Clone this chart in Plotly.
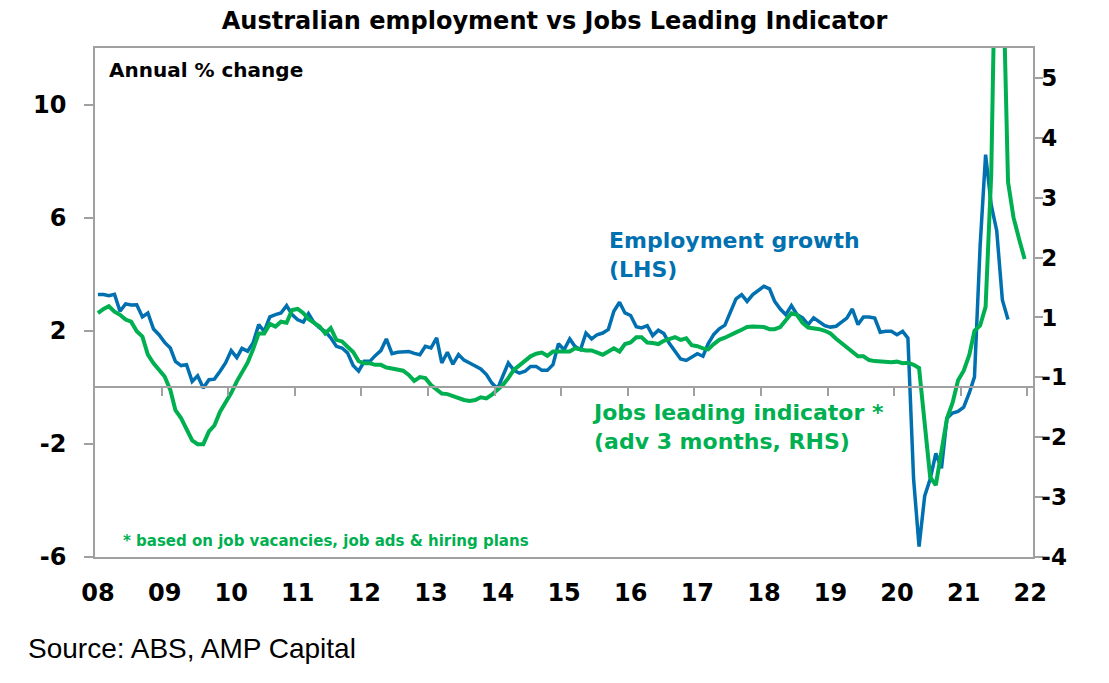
import pandas as pd
import plotly.graph_objects as go

# monthly values from Jan 2008
# employment growth, annual % change (left axis)
employment = [
    3.28, 3.28, 3.24, 3.29, 2.69, 2.95, 2.91, 2.92, 2.49, 2.63, 2.06, 1.86,
    1.59, 1.39, 0.92, 0.77, 0.80, 0.21, 0.41, -0.02, 0.27, 0.29, 0.57, 0.86,
    1.30, 1.05, 1.38, 1.28, 1.57, 2.22, 1.98, 2.49, 2.57, 2.63, 2.89, 2.57,
    2.39, 2.31, 2.61, 2.28, 2.10, 1.98, 1.75, 1.45, 1.39, 1.22, 0.77, 0.57,
    0.92, 0.92, 1.12, 1.30, 1.71, 1.19, 1.24, 1.26, 1.27, 1.20, 1.15, 1.45,
    1.39, 1.75, 0.86, 1.24, 0.82, 1.16, 0.96, 0.86, 0.74, 0.65, 0.45, 0.15,
    -0.05, 0.40, 0.86, 0.60, 0.50, 0.57, 0.74, 0.74, 0.60, 0.60, 0.80, 1.54,
    1.33, 1.71, 1.45, 1.33, 1.92, 1.71, 1.86, 1.92, 2.05, 2.69, 3.01, 2.63,
    2.54, 2.14, 2.10, 2.18, 1.83, 2.02, 1.90, 1.55, 1.25, 1.00, 0.95, 1.07,
    1.19, 1.10, 1.54, 1.87, 2.07, 2.20, 2.63, 3.13, 3.28, 3.04, 3.28, 3.43,
    3.57, 3.48, 3.04, 2.77, 2.57, 2.89, 2.58, 2.46, 2.22, 2.46, 2.30, 2.18,
    2.13, 2.16, 2.30, 2.45, 2.77, 2.22, 2.49, 2.49, 2.45, 1.95, 1.98, 1.98,
    1.86, 1.98, 1.74, -3.24, -5.63, -3.84, -3.24, -2.34, -2.86, -1.09, -0.91, -0.85,
    -0.70, -0.19, 0.37, 5.00, 8.23, 6.44, 5.54, 3.09, 2.40,
]

# jobs leading indicator, advanced 3 months (right axis)
jobs_indicator = [
    0.58, 0.66, 0.71, 0.61, 0.55, 0.46, 0.42, 0.24, 0.14, -0.20, -0.36, -0.47,
    -0.61, -0.86, -1.24, -1.39, -1.61, -1.81, -1.88, -1.88, -1.64, -1.53, -1.27, -1.11,
    -0.92, -0.70, -0.55, -0.35, -0.10, 0.20, 0.20, 0.38, 0.33, 0.42, 0.40, 0.64,
    0.66, 0.58, 0.47, 0.39, 0.33, 0.20, 0.30, 0.08, 0.05, -0.05, -0.15, -0.32,
    -0.36, -0.36, -0.39, -0.39, -0.44, -0.46, -0.48, -0.50, -0.58, -0.69, -0.62, -0.64,
    -0.77, -0.85, -0.93, -0.94, -0.98, -1.02, -1.05, -1.07, -1.05, -1.00, -1.02, -0.95,
    -0.86, -0.76, -0.64, -0.48, -0.40, -0.31, -0.23, -0.18, -0.16, -0.22, -0.14, -0.14,
    -0.14, -0.14, -0.08, -0.11, -0.12, -0.12, -0.16, -0.20, -0.14, -0.08, -0.14, 0.00,
    0.03, 0.13, 0.13, 0.03, 0.02, 0.00, 0.06, 0.10, 0.13, 0.08, 0.11, -0.02,
    -0.04, -0.08, -0.10, 0.00, 0.08, 0.12, 0.16, 0.22, 0.27, 0.32, 0.33, 0.33,
    0.32, 0.28, 0.28, 0.32, 0.46, 0.58, 0.55, 0.40, 0.31, 0.30, 0.28, 0.25,
    0.20, 0.10, 0.02, -0.05, -0.15, -0.23, -0.23, -0.30, -0.32, -0.33, -0.33, -0.34,
    -0.33, -0.36, -0.35, -0.39, -0.45, -1.50, -2.50, -2.65, -2.05, -1.40, -1.10, -0.68,
    -0.50, -0.20, 0.25, 0.35, 0.70, 3.20, 9.00, 7.50, 3.05, 2.38, 1.97, 1.60,
]

years = list(range(2008, 2023))
year_labels = ["08", "09", "10", "11", "12", "13", "14", "15",
               "16", "17", "18", "19", "20", "21", "22"]
left_ticks = [-6, -2, 2, 6, 10]
left_labels = ["-6", "-2", "2", "6", "10"]
right_ticks = [-4 + 1.125 * k for k in range(9)]
right_labels = ["-4", "-3", "-2", "-1", "1", "2", "3", "4", "5"]

emp_dates = pd.date_range("2008-01-01", periods=len(employment), freq="MS")
jobs_dates = pd.date_range("2008-01-01", periods=len(jobs_indicator), freq="MS")

BLUE = "#0070B0"
GREEN = "#00B050"
GREY = "#A0A0A0"
FONT = "DejaVu Sans"

x_range = ["2007-12-16", "2022-01-16"]
year_starts = [f"{y}-01-01" for y in years]
year_bounds = [f"{y - 1}-12-16" for y in years[1:]]

# plot area in pixels: x 95..1033, y 48..557
def px(x):
    return (x - 95) / 938

def py(y):
    return (557 - y) / 509


fig = go.Figure()
fig.add_trace(go.Scatter(x=emp_dates, y=employment, mode="lines",
                         line=dict(color=BLUE, width=3.5),
                         name="Employment growth (LHS)"))
fig.add_trace(go.Scatter(x=jobs_dates, y=jobs_indicator, mode="lines", yaxis="y2",
                         line=dict(color=GREEN, width=4),
                         name="Jobs leading indicator (RHS)"))
# keeps the zero-crossing axis drawn
fig.add_trace(go.Scatter(x=[emp_dates[0]], y=[0], xaxis="x2", mode="lines",
                         line=dict(width=0), showlegend=False, hoverinfo="skip"))

bold = dict(family=FONT, size=24, color="black", weight="bold")

fig.update_layout(
    width=1109, height=683,
    margin=dict(l=95, r=76, t=48, b=126),
    paper_bgcolor="white", plot_bgcolor="white",
    showlegend=False,
    title=dict(text="Australian employment vs Jobs Leading Indicator",
               x=0.5, xref="container", xanchor="center",
               y=1 - 21 / 683, yref="container", yanchor="middle",
               font=dict(family=FONT, size=24, color="black", weight="bold")),
    xaxis=dict(range=x_range, tickvals=year_starts, ticktext=year_labels,
               ticks="", showline=True, linecolor=GREY, linewidth=1.5, mirror=True,
               showgrid=False, zeroline=False, tickfont=bold, ticklabelstandoff=13),
    xaxis2=dict(range=x_range, overlaying="x", anchor="free", position=1 / 3,
                tickvals=year_bounds, ticks="outside", ticklen=8, tickwidth=1.5,
                tickcolor=GREY, showticklabels=False, showline=True,
                linecolor=GREY, linewidth=1.5, showgrid=False, zeroline=False),
    yaxis=dict(range=[-6, 12], tickvals=left_ticks, ticktext=left_labels,
               ticks="outside", ticklen=9,
               tickwidth=1.5, tickcolor=GREY, showline=True, linecolor=GREY,
               linewidth=1.5, showgrid=False, zeroline=False, tickfont=bold,
               ticklabelstandoff=13),
    yaxis2=dict(range=[-4, 5.5625], overlaying="y", side="right", anchor="x",
                tickvals=right_ticks, ticktext=right_labels, ticks="outside",
                ticklen=8, tickwidth=1.5, tickcolor=GREY, showline=True,
                linecolor=GREY, linewidth=1.5, showgrid=False, zeroline=False,
                tickfont=dict(family=FONT, size=23, color="black", weight="bold"),
                ticklabelstandoff=-6),
)

fig.add_annotation(text="Annual % change", xref="paper", yref="paper",
                   x=px(107), y=py(70), xanchor="left", yanchor="middle",
                   showarrow=False,
                   font=dict(family=FONT, size=20, color="black", weight="bold"))
fig.add_annotation(text="Employment growth<br>(LHS)", xref="paper", yref="paper",
                   x=px(607), y=py(255), xanchor="left", yanchor="middle",
                   align="left", showarrow=False,
                   font=dict(family=FONT, size=22, color=BLUE, weight="bold"))
fig.add_annotation(text="Jobs leading indicator *<br>(adv 3 months, RHS)",
                   xref="paper", yref="paper", x=px(590), y=py(427),
                   xanchor="left", yanchor="middle", align="left", showarrow=False,
                   font=dict(family=FONT, size=22, color=GREEN, weight="bold"))
fig.add_annotation(text="* based on job vacancies, job ads & hiring plans",
                   xref="paper", yref="paper", x=px(121), y=py(541),
                   xanchor="left", yanchor="middle", showarrow=False,
                   font=dict(family=FONT, size=15, color=GREEN, weight="bold"))
fig.add_annotation(text="Source: ABS, AMP Capital", xref="paper", yref="paper",
                   x=px(26), y=py(648), xanchor="left", yanchor="middle",
                   showarrow=False,
                   font=dict(family="Liberation Sans", size=28, color="black"))

# page body margin would push the figure 8px off the corner
fig.write_html("out.html", config={"displayModeBar": False},
               post_script="document.body.style.margin='0';")
